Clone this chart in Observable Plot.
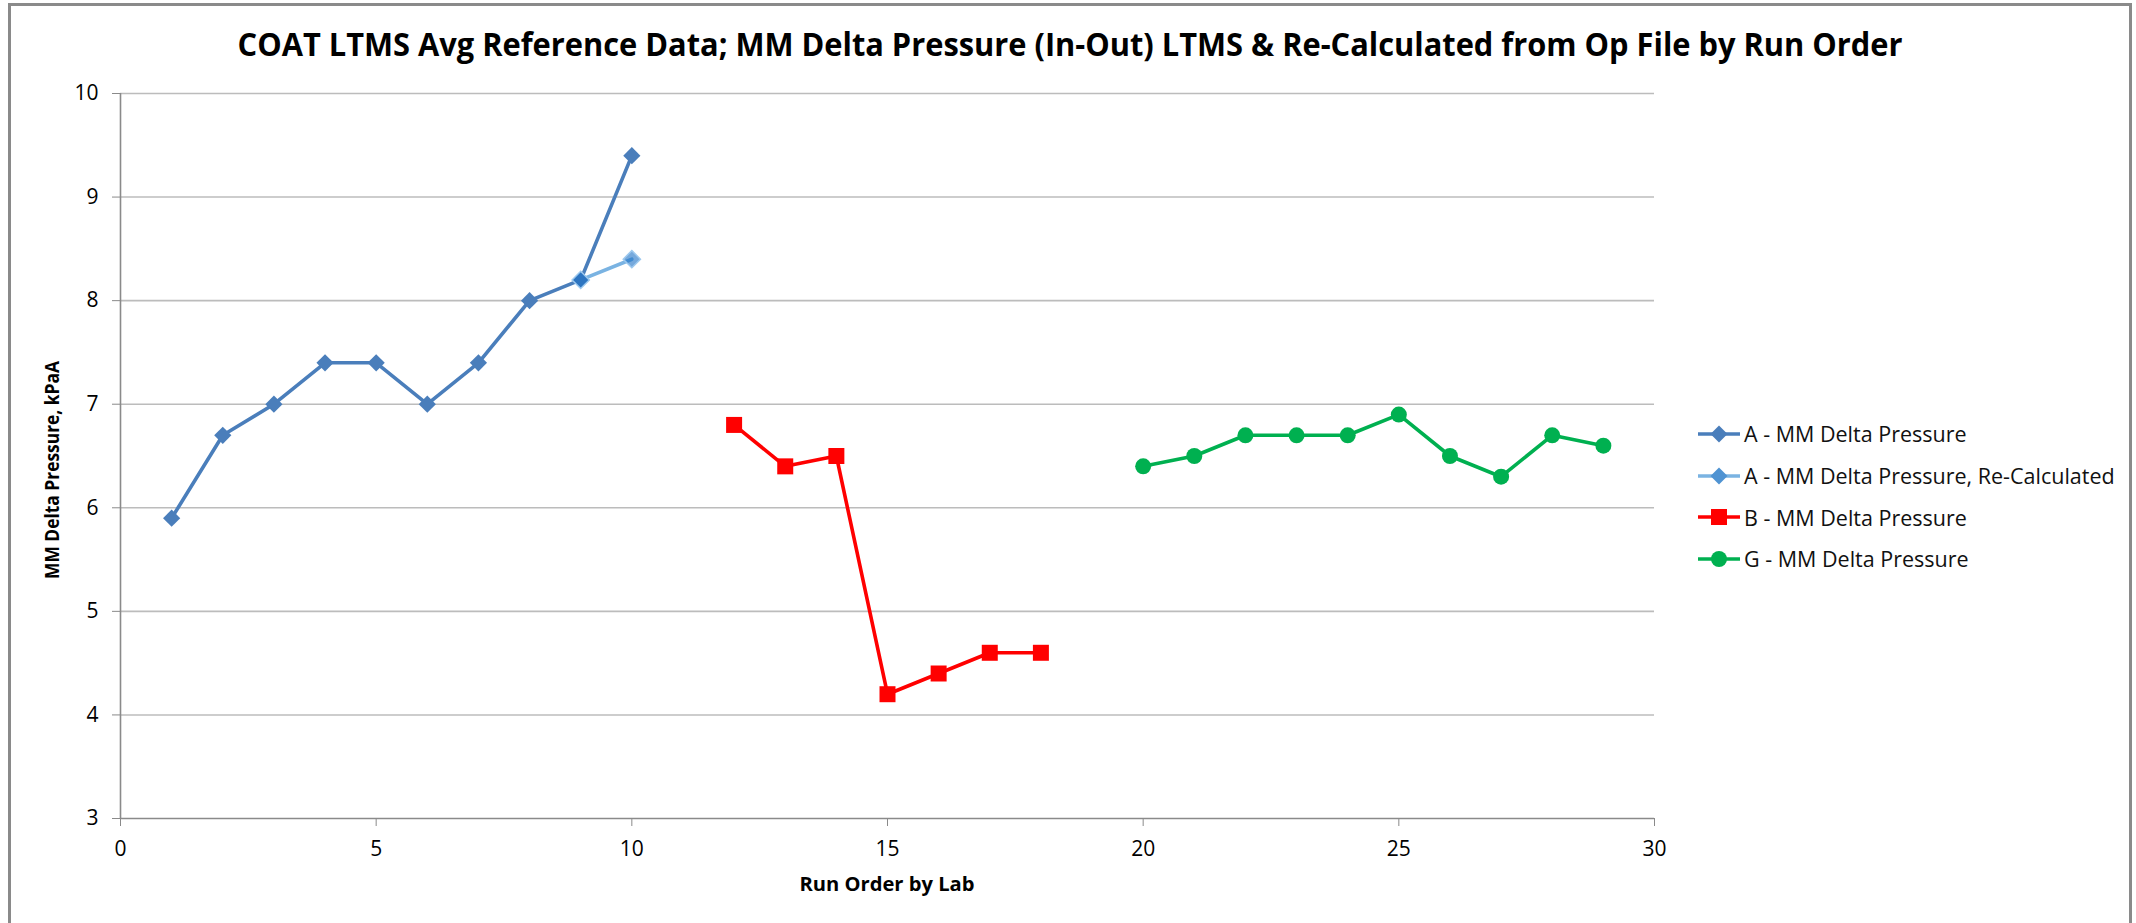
<!DOCTYPE html>
<html>
<head>
<meta charset="utf-8">
<script src="https://cdn.jsdelivr.net/npm/d3@7"></script>
<script src="https://cdn.jsdelivr.net/npm/@observablehq/plot@0.6"></script>
<style>
  html, body { margin: 0; padding: 0; background: #fff; }
  #wrap { position: relative; width: 2136px; height: 923px; overflow: hidden; background: #fff; }
  #frame { position: absolute; left: 8px; top: 3px; width: 2124px; height: 940px; border: 3px solid #8a8a8a; box-sizing: border-box; pointer-events: none; }
  #chart { position: absolute; left: 0; top: 0; }
  #legend { position: absolute; left: 1697px; top: 413px; font-family: "Open Sans", sans-serif; font-size: 21.5px; color: #111; }
  .row { display: flex; align-items: center; height: 41.7px; }
  .row svg { margin-right: 3px; }
</style>
</head>
<body>
<div id="wrap">
  <div id="chart"></div>
  <div id="legend"></div>
  <div id="frame"></div>
</div>
<script>
// ---- data ----
const xTicks = [0, 5, 10, 15, 20, 25, 30];
const yTicks = [3, 4, 5, 6, 7, 8, 9, 10];

const seriesNames = [
  "A - MM Delta Pressure",
  "A - MM Delta Pressure, Re-Calculated",
  "B - MM Delta Pressure",
  "G - MM Delta Pressure"
];

const runA = [1, 2, 3, 4, 5, 6, 7, 8, 9, 10];
const valA = [5.9, 6.7, 7.0, 7.4, 7.4, 7.0, 7.4, 8.0, 8.2, 9.4];

const runARecalc = [9, 10];
const valARecalc = [8.2, 8.4];

const runB = [12, 13, 14, 15, 16, 17, 18];
const valB = [6.8, 6.4, 6.5, 4.2, 4.4, 4.6, 4.6];

const runG = [20, 21, 22, 23, 24, 25, 26, 27, 28, 29];
const valG = [6.4, 6.5, 6.7, 6.7, 6.7, 6.9, 6.5, 6.3, 6.7, 6.6];

const colors = ["#4a7ebb", "#7ab3e2", "#ff0000", "#00b050"];

// ---- build tables ----
const zip = (xs, ys) => xs.map((x, i) => ({x, y: ys[i]}));
const dA = zip(runA, valA);
const dAR = zip(runARecalc, valARecalc);
const dB = zip(runB, valB);
const dG = zip(runG, valG);

const diamond = {
  draw(ctx, size) {
    const h = Math.sqrt(size / 2);
    ctx.moveTo(0, -h); ctx.lineTo(h, 0); ctx.lineTo(0, h); ctx.lineTo(-h, 0); ctx.closePath();
  }
};
const rDiamond = 8.6 * Math.sqrt(2 / Math.PI);
const rSquare = 16 / Math.sqrt(Math.PI);
const lw = 3.6;

const chart = Plot.plot({
  width: 2136,
  height: 923,
  marginLeft: 120,
  marginRight: 482,
  marginTop: 93,
  marginBottom: 105,
  style: { fontFamily: "Open Sans, sans-serif", fontSize: "21px", background: "transparent", color: "#000", overflow: "visible" },
  x: { domain: [0, 30], label: null },
  y: { domain: [3, 10], label: null },
  marks: [
    Plot.gridY(yTicks.filter(t => t > 3), { stroke: "#bcbcbc", strokeOpacity: 1, strokeWidth: 1.6 }),
    Plot.axisY({ ticks: yTicks, tickFormat: d3.format("d"), tickSize: 8, tickPadding: 14, stroke: "#8a8a8a", strokeOpacity: 1, fill: "#000", label: null }),
    Plot.axisX({ ticks: xTicks, tickFormat: d3.format("d"), tickSize: 8, tickPadding: 15, stroke: "#8a8a8a", strokeOpacity: 1, fill: "#000", label: null }),
    Plot.ruleY([3], { stroke: "#8a8a8a", strokeWidth: 1.6 }),
    Plot.ruleX([0], { stroke: "#8a8a8a", strokeWidth: 1.6 }),
    // lines
    Plot.line(dA, { x: "x", y: "y", stroke: colors[0], strokeWidth: lw }),
    Plot.line(dAR, { x: "x", y: "y", stroke: colors[1], strokeWidth: lw }),
    Plot.line(dB, { x: "x", y: "y", stroke: colors[2], strokeWidth: lw }),
    Plot.line(dG, { x: "x", y: "y", stroke: colors[3], strokeWidth: lw }),
    // markers
    Plot.dot(dA, { x: "x", y: "y", symbol: diamond, r: rDiamond, fill: colors[0] }),
    Plot.dot(dAR, { x: "x", y: "y", symbol: diamond, r: rDiamond, fill: "#1a6fc4", fillOpacity: 0.6, stroke: "#9cc8ee", strokeWidth: 1.5 }),
    Plot.dot(dB, { x: "x", y: "y", symbol: d3.symbolSquare, r: rSquare, fill: colors[2] }),
    Plot.dot(dG, { x: "x", y: "y", r: 8, fill: colors[3] })
  ]
});
document.getElementById("chart").appendChild(chart);

// ---- titles ----
const svg = d3.select(chart);
svg.append("text")
  .attr("x", 1070).attr("y", 56)
  .attr("text-anchor", "middle")
  .attr("font-family", "Open Sans, sans-serif")
  .attr("font-weight", "bold")
  .attr("font-size", 32)
  .attr("fill", "#000")
  .attr("textLength", 1665)
  .attr("lengthAdjust", "spacingAndGlyphs")
  .text("COAT LTMS Avg Reference Data; MM Delta Pressure (In-Out) LTMS & Re-Calculated from Op File by Run Order");

svg.append("text")
  .attr("transform", "translate(59,470) rotate(-90)")
  .attr("text-anchor", "middle")
  .attr("font-family", "Open Sans, sans-serif")
  .attr("font-weight", "bold")
  .attr("font-size", 19)
  .attr("fill", "#000")
  .attr("textLength", 218)
  .attr("lengthAdjust", "spacingAndGlyphs")
  .text("MM Delta Pressure, kPaA");

svg.append("text")
  .attr("x", 887).attr("y", 891)
  .attr("text-anchor", "middle")
  .attr("font-family", "Open Sans, sans-serif")
  .attr("font-weight", "bold")
  .attr("font-size", 19)
  .attr("fill", "#000")
  .attr("textLength", 175)
  .attr("lengthAdjust", "spacingAndGlyphs")
  .text("Run Order by Lab");

// ---- legend ----
const legend = d3.select("#legend");
const shapes = ["diamond", "diamond", "square", "circle"];
seriesNames.forEach((name, i) => {
  const row = legend.append("div").attr("class", "row");
  const s = row.append("svg").attr("width", 44).attr("height", 20);
  s.append("line").attr("x1", 1).attr("x2", 43).attr("y1", 10).attr("y2", 10)
    .attr("stroke", colors[i]).attr("stroke-width", lw);
  if (shapes[i] === "diamond") {
    s.append("path").attr("d", "M22,1.5L30.5,10L22,18.5L13.5,10Z").attr("fill", i === 1 ? "#4f93d2" : colors[i]);
  } else if (shapes[i] === "square") {
    s.append("rect").attr("x", 14).attr("y", 2).attr("width", 16).attr("height", 16).attr("fill", colors[i]);
  } else {
    s.append("circle").attr("cx", 22).attr("cy", 10).attr("r", 8).attr("fill", colors[i]);
  }
  row.append("span").text(name);
});
</script>
</body>
</html>
